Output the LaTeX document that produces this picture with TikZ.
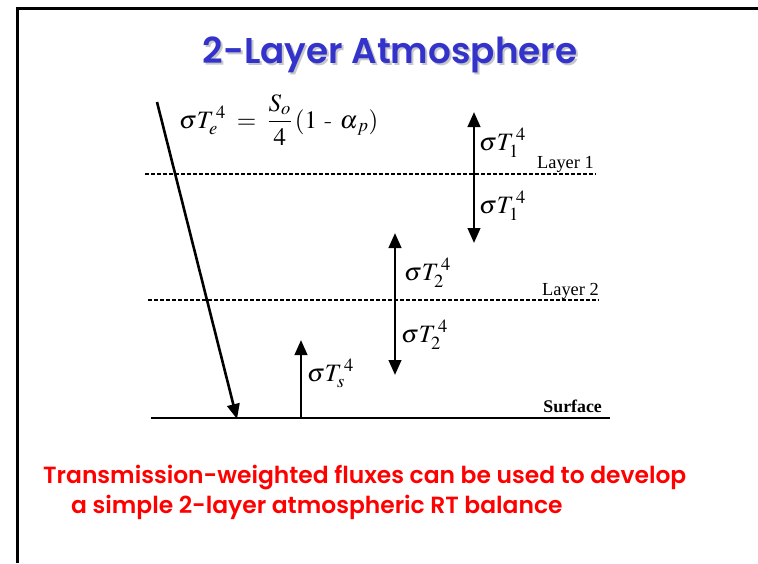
\documentclass[tikz,border=0pt]{standalone}
\usepackage{mathptmx}
\usepackage{fontspec}
\usetikzlibrary{arrows.meta}
\newfontfamily\comicfont{Poppins}[UprightFont=* SemiBold]
\newfontfamily\timesfont{Liberation Serif}
\definecolor{titleblue}{RGB}{51,51,204}
\tikzset{
  frameline/.style={line width=3pt},
  layerline/.style={line width=2pt, dash pattern=on 4pt off 2pt},
  tip/.tip={Triangle[length=15pt,width=12.5pt]},
  flux/.style={line width=2.6pt, -tip},
  fluxboth/.style={line width=2.6pt, tip-tip},
  lab/.style={anchor=base west, inner sep=0pt, font=\fontsize{25}{28}\selectfont},
  layerlab/.style={anchor=base east, inner sep=0pt, font=\timesfont\fontsize{18.4}{20}\selectfont},
  redtext/.style={anchor=base west, inner sep=0pt, text=red, font=\comicfont\fontsize{23.4}{26}\selectfont},
}
\newcommand{\shadowtext}[1]{\makebox[0pt][l]{\hspace{2pt}\raisebox{-2pt}{\textcolor{black!22}{#1}}}\textcolor{titleblue}{#1}}
\begin{document}
\begin{tikzpicture}[x=1pt,y=-1pt]
\useasboundingbox (0,0) rectangle (758,563);
\fill[white] (0,0) rectangle (758,563);
% frame
\coordinate (fa) at (17,563);
\coordinate (fb) at (17,8);
\coordinate (fc) at (758,8);
\draw[frameline] (fa) -- (fb) -- (fc);
% title
\node[anchor=base, inner sep=0pt, font=\comicfont\fontsize{35.8}{40}\selectfont] (title) at (390,63) {\shadowtext{2-Layer Atmosphere}};
% layer lines
\coordinate (l1a) at (145,174); \coordinate (l1b) at (596,174);
\coordinate (l2a) at (148,300); \coordinate (l2b) at (599,300);
\coordinate (sa) at (151,418); \coordinate (sb) at (610,418);
\draw[layerline] (l1a) -- (l1b);
\draw[layerline] (l2a) -- (l2b);
\draw[line width=2.6pt] (sa) -- (sb);
\node[layerlab] (layer1) at (594,168) {Layer 1};
\node[layerlab] (layer2) at (599,295) {Layer 2};
\node[layerlab, font=\timesfont\bfseries\fontsize{17.8}{20}\selectfont] (surface) at (602,412) {Surface};
% solar arrow
\coordinate (sun) at (157,102);
\coordinate (sunhit) at (237,419);
\draw[flux] (sun) -- (sunhit);
\node[lab] (eq) at (179,128) {$\sigma T_e^{\,4} \;=\; {\displaystyle\frac{S_o}{4}}\,(1\mbox{ - }\alpha_{\,p})$};
% layer 1 arrows
\coordinate (a1t) at (474,112); \coordinate (a1b) at (474,243);
\draw[fluxboth] (a1t) -- (a1b);
\node[lab] (t1up) at (479,150) {$\sigma T_1^{\,4}$};
\node[lab] (t1dn) at (479,213) {$\sigma T_1^{\,4}$};
% layer 2 arrows
\coordinate (a2t) at (395,233); \coordinate (a2b) at (395,375);
\draw[fluxboth] (a2t) -- (a2b);
\node[lab] (t2up) at (404,280) {$\sigma T_2^{\,4}$};
\node[lab] (t2dn) at (401,342) {$\sigma T_2^{\,4}$};
% surface arrow
\coordinate (sfoot) at (301,418); \coordinate (stip) at (301,340);
\draw[flux] (sfoot) -- (stip);
\node[lab] (tsup) at (307,381) {$\sigma T_s^{\,4}$};
% red text
\node[redtext] (red1) at (43,483) {Transmission-weighted fluxes can be used to develop};
\node[redtext] (red2) at (71,513) {a simple 2-layer atmospheric RT balance};
\end{tikzpicture}
\end{document}
